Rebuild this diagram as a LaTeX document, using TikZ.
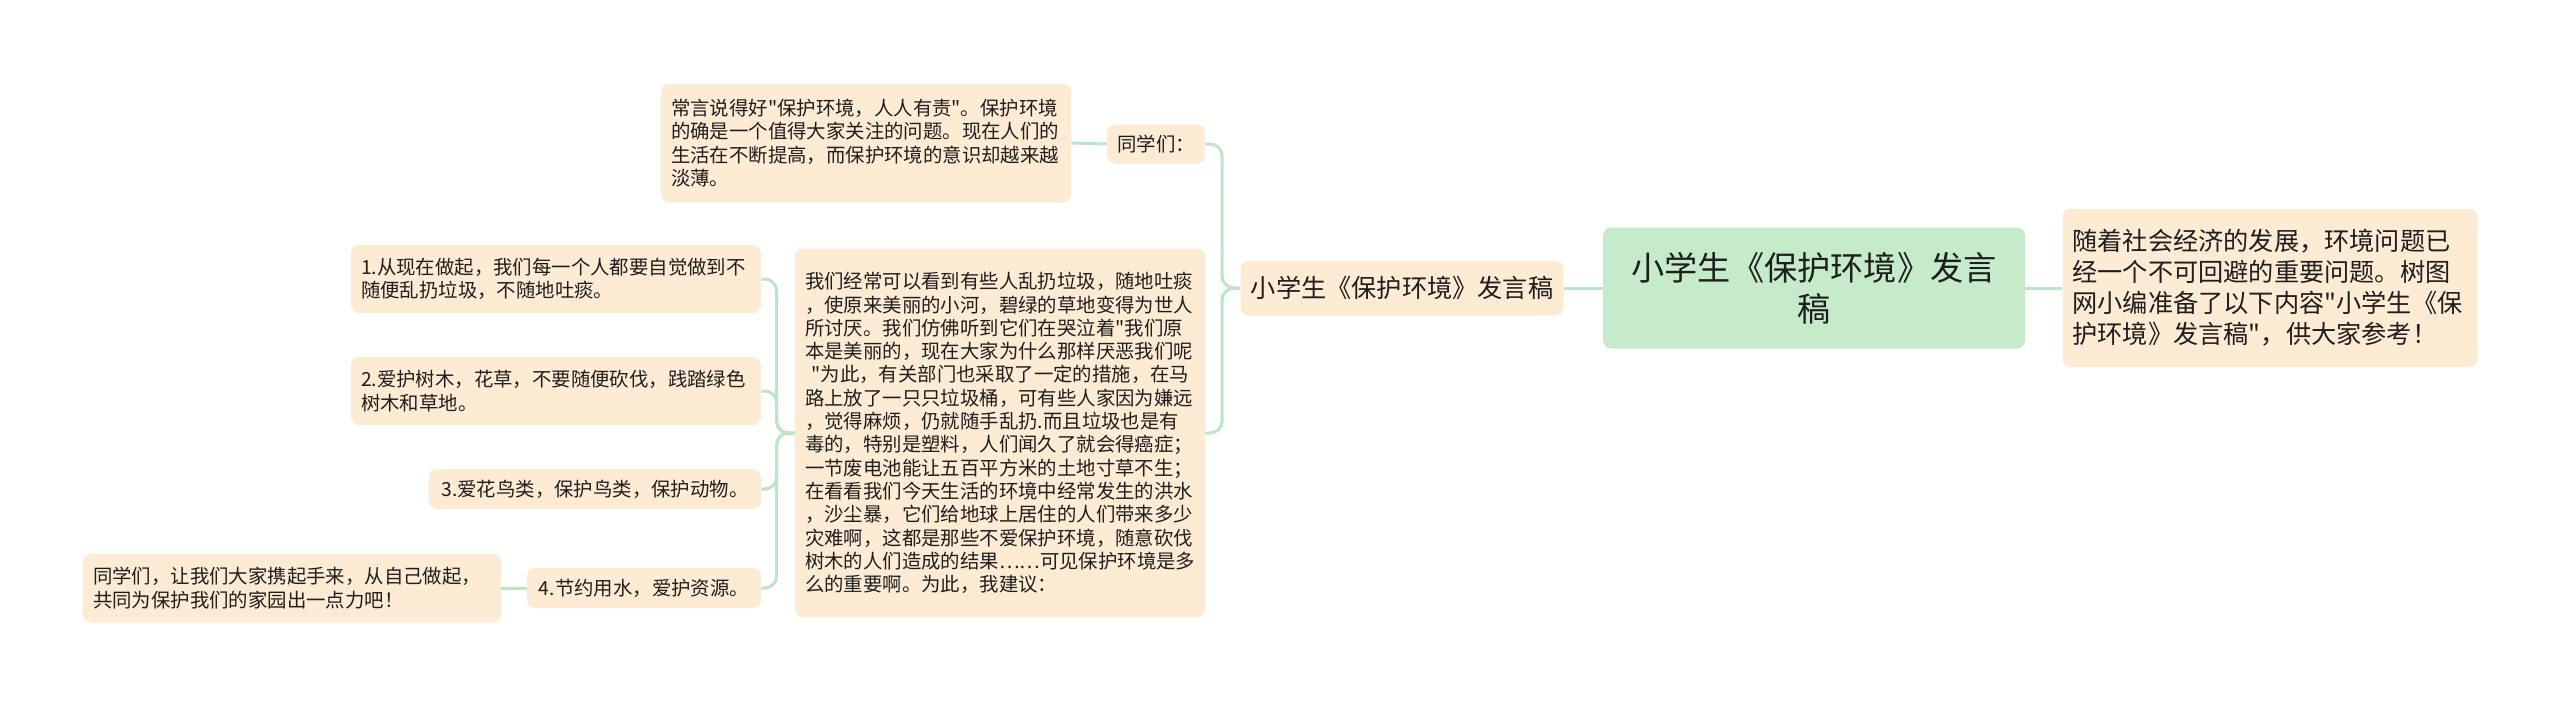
\documentclass[tikz,border=0pt]{standalone}
\usepackage{fontspec}
\setmainfont{Noto Sans CJK SC}[Ligatures=TeXOff]
\usepackage{tikz}
\usetikzlibrary{positioning,calc}
\definecolor{leaffill}{HTML}{FDEBD4}
\definecolor{rootfill}{HTML}{C6EBCB}
\definecolor{linkgreen}{HTML}{BCE5C5}
\definecolor{inkdark}{HTML}{1E1E1E}
\tikzset{
    x=0.5pt,
    y=-0.5pt,
    topic/.style = {
        shape=rectangle,
        fill=rootfill,
        rounded corners=4pt,
        text=inkdark,
        align=center,
        inner xsep=5pt,
        font=\fontsize{16.6pt}{20.5pt}\selectfont
    },
    branch/.style = {
        shape=rectangle,
        fill=leaffill,
        rounded corners=4pt,
        text=inkdark,
        inner xsep=5pt,
        font=\fontsize{12.6pt}{15.5pt}\selectfont
    },
    leaf/.style = {
        shape=rectangle,
        fill=leaffill,
        rounded corners=4pt,
        text=inkdark,
        inner xsep=5pt,
        font=\fontsize{9.7pt}{11.65pt}\selectfont
    },
    link/.style = {
        draw=linkgreen,
        line width=1.5pt,
        rounded corners=6pt
    },
}
\begin{document}
\begin{tikzpicture}
            \useasboundingbox (0,0) rectangle (2560,707);

            % centre and right side
            \node[topic, text width=201pt, minimum height=60.5pt] (root) at (1814,288)
                {小学生《保护环境》发言\\稿};
            \node[branch, align=left, text width=197.5pt, minimum height=79pt] (intro) at (2270,288)
                {随着社会经济的发展，环境问题已\\经一个不可回避的重要问题。树图\\网小编准备了以下内容"小学生《保\\护环境》发言稿"，供大家参考！};
            \node[branch, minimum width=161.5pt, minimum height=27.5pt] (title) at (1402,288)
                {小学生《保护环境》发言稿};

            % first level on the left
            \node[leaf, minimum width=49pt, minimum height=19.5pt] (tongxue) at (1156,144) {同学们：};
            \node[leaf, align=left, text width=195pt, minimum height=59.5pt] (saying) at (866,143)
                {常言说得好"保护环境，人人有责"。保护环境\\的确是一个值得大家关注的问题。现在人们的\\生活在不断提高，而保护环境的意识却越来越\\淡薄。};
            \node[leaf, align=left, text width=195pt, minimum height=184.5pt] (para) at (1000,433)
                {我们经常可以看到有些人乱扔垃圾，随地吐痰\\，使原来美丽的小河，碧绿的草地变得为世人\\所讨厌。我们仿佛听到它们在哭泣着"我们原\\本是美丽的，现在大家为什么那样厌恶我们呢\\\ "为此，有关部门也采取了一定的措施，在马\\路上放了一只只垃圾桶，可有些人家因为嫌远\\，觉得麻烦，仍就随手乱扔.而且垃圾也是有\\毒的，特别是塑料，人们闻久了就会得癌症；\\一节废电池能让五百平方米的土地寸草不生；\\在看看我们今天生活的环境中经常发生的洪水\\，沙尘暴，它们给地球上居住的人们带来多少\\灾难啊，这都是那些不爱保护环境，随意砍伐\\树木的人们造成的结果……可见保护环境是多\\么的重要啊。为此，我建议：};

            % suggestions
            \node[leaf, align=left, text width=195pt, minimum height=34pt] (s1) at (556,279)
                {1.从现在做起，我们每一个人都要自觉做到不\\随便乱扔垃圾，不随地吐痰。};
            \node[leaf, align=left, text width=195pt, minimum height=34pt] (s2) at (556,391)
                {2.爱护树木，花草，不要随便砍伐，践踏绿色\\树木和草地。};
            \node[leaf, minimum width=166pt, minimum height=20pt] (s3) at (595,489)
                {3.爱花鸟类，保护鸟类，保护动物。};
            \node[leaf, minimum width=117pt, minimum height=20pt] (s4) at (644,588)
                {4.节约用水，爱护资源。};
            \node[leaf, align=left, text width=199pt, minimum height=34.5pt] (final) at (292,588)
                {同学们，让我们大家携起手来，从自己做起，\\共同为保护我们的家园出一点力吧！};

            \path[link] (root.east) -- (intro.west);
            \path[link] (root.west) -- (title.east);
            \path[link] (title.west) -- ++(-18,0) |- (tongxue.east);
            \path[link] (title.west) -- ++(-18,0) |- (para.east);
            \path[link] (tongxue.west) -- (saying.east);
            \path[link] (para.west) -- ++(-18,0) |- (s1.east);
            \path[link] (para.west) -- ++(-18,0) |- (s2.east);
            \path[link] (para.west) -- ++(-18,0) |- (s3.east);
            \path[link] (para.west) -- ++(-18,0) |- (s4.east);
            \path[link] (s4.west) -- (final.east);
        \end{tikzpicture}
\end{document}
